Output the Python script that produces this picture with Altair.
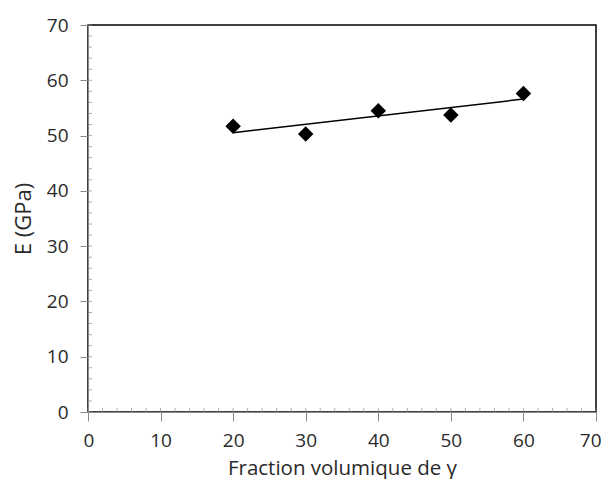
import altair as alt
import pandas as pd

fraction = [20, 30, 40, 50, 60]
modulus = [51.7, 50.3, 54.5, 53.7, 57.6]
minor_x = list(range(0, 71, 2))
minor_y = list(range(0, 71, 2))
major_vals = list(range(0, 71, 10))

df = pd.DataFrame({"x": fraction, "y": modulus})
dmx = pd.DataFrame({"x": minor_x})
dmy = pd.DataFrame({"y": minor_y})

FONT = "Open Sans"
GRAY = "#8a8a8a"
TXT = "#2a2a2a"
W, H = 508, 387

xscale = alt.Scale(domain=[0, 70], nice=False)
yscale = alt.Scale(domain=[0, 70], nice=False)

xaxis = alt.Axis(values=major_vals, title="Fraction volumique de γ", grid=False,
                 tickSize=9, tickColor=GRAY, domainColor=GRAY, labelFontSize=19,
                 labelFont=FONT, labelColor=TXT, labelPadding=10,
                 labelFlush=True, labelFlushOffset=5,
                 titleFont=FONT, titleFontSize=20.5, titleFontWeight="normal",
                 titleColor=TXT, titlePadding=8)
yaxis = alt.Axis(values=major_vals, title="E (GPa)", grid=False,
                 tickSize=8, tickColor=GRAY, domainColor=GRAY, labelFontSize=19,
                 labelFont=FONT, labelColor=TXT, labelPadding=12, labelFlush=False,
                 titleFont=FONT, titleFontSize=22, titleFontWeight="normal",
                 titleColor=TXT, titlePadding=11)

pts = alt.Chart(df).mark_point(shape="diamond", filled=True, size=240,
                               color="black", opacity=1).encode(
    x=alt.X("x:Q", scale=xscale, axis=xaxis),
    y=alt.Y("y:Q", scale=yscale, axis=yaxis),
)

trend = alt.Chart(df).transform_regression("x", "y", extent=[20, 60]).mark_line(
    color="black", strokeWidth=1.5).encode(
    x=alt.X("x:Q", scale=xscale, axis=xaxis),
    y=alt.Y("y:Q", scale=yscale, axis=yaxis),
)

tx = alt.Chart(dmx).mark_tick(orient="vertical", color=GRAY, thickness=1, size=4).encode(
    x=alt.X("x:Q", scale=xscale, axis=xaxis),
    y=alt.value(H - 2),
)
ty = alt.Chart(dmy).mark_tick(orient="horizontal", color=GRAY, thickness=1, size=4).encode(
    y=alt.Y("y:Q", scale=yscale, axis=yaxis),
    x=alt.value(2),
)

chart = alt.layer(tx, ty, trend, pts).properties(
    width=W, height=H,
    autosize=alt.AutoSizeParams(type="none"),
    padding={"left": 80, "top": 17, "right": 5, "bottom": 67},
).configure(background="white").configure_view(stroke="#000000", strokeWidth=1.5)

chart.save("out.html", embed_options={"renderer": "svg", "actions": False})
